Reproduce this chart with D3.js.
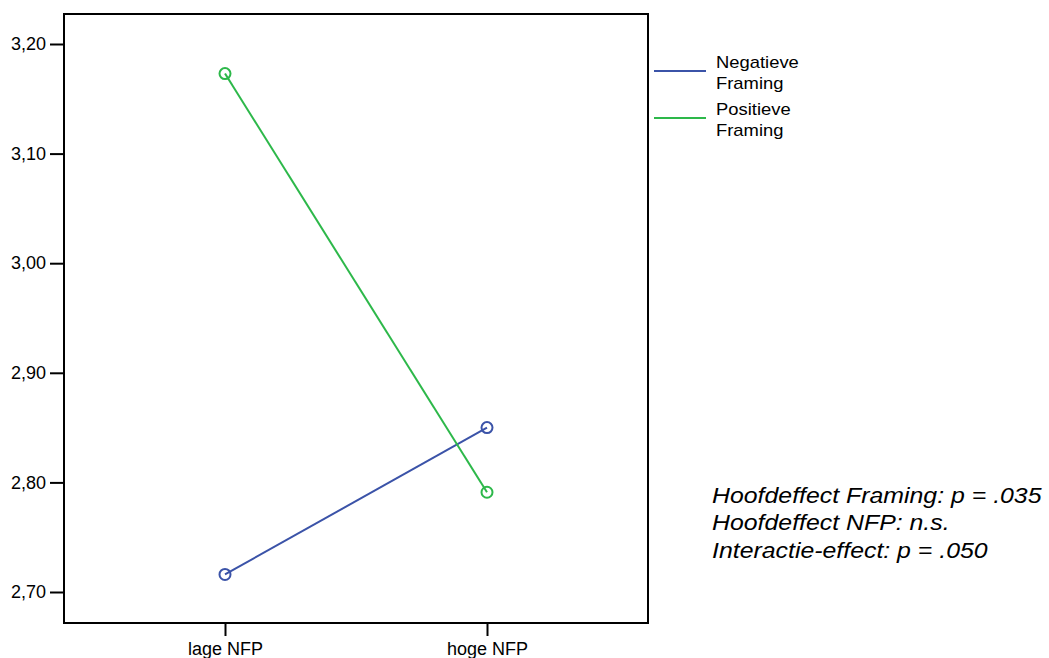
<!DOCTYPE html>
<html>
<head>
<meta charset="utf-8">
<script src="https://cdn.jsdelivr.net/npm/d3@7"></script>
<style>
  body { margin: 0; background: #fff; }
  svg { font-family: "Liberation Sans", Arial, Helvetica, sans-serif; }
</style>
</head>
<body>
<svg id="chart" width="1049" height="658"></svg>
<script>
// data
var categories = ["lage NFP", "hoge NFP"];
var seriesNames = ["Negatieve Framing", "Positieve Framing"];
var negatieve = [2.716, 2.850];
var positieve = [3.173, 2.791];
var yTicks = [2.70, 2.80, 2.90, 3.00, 3.10, 3.20];
var notes = ["Hoofdeffect Framing: p = .035", "Hoofdeffect NFP: n.s.", "Interactie-effect: p = .050"];

var colors = ["#3b53a8", "#2db84a"];
var series = [
  {name: seriesNames[0], values: negatieve, color: colors[0]},
  {name: seriesNames[1], values: positieve, color: colors[1]}
];

var svg = d3.select("#chart");
var margin = {top: 14, left: 64, right: 401, bottom: 35};
var w = 1049 - margin.left - margin.right;
var h = 658 - margin.top - margin.bottom;
var g = svg.append("g").attr("transform", "translate(" + margin.left + "," + margin.top + ")");

var x = d3.scalePoint().domain(categories).range([161, 423]);
var y = d3.scaleLinear().domain([2.70, 3.20]).range([578, 30]);

// frame
g.append("rect").attr("x", 0).attr("y", 0).attr("width", w).attr("height", h)
  .attr("fill", "none").attr("stroke", "#000").attr("stroke-width", 2);

var yAxis = g.append("g")
  .call(d3.axisLeft(y).tickValues(yTicks).tickSize(14).tickPadding(4)
    .tickFormat(function(d){ return d3.format(".2f")(d).replace(".", ","); }));
yAxis.select(".domain").remove();
yAxis.selectAll(".tick line").attr("stroke-width", 2);
yAxis.selectAll("text").attr("font-size", 18).attr("fill", "#000").attr("font-family", "Liberation Sans, Arial, sans-serif");

var xAxis = g.append("g").attr("transform", "translate(0," + h + ")")
  .call(d3.axisBottom(x).tickSize(13).tickPadding(6));
xAxis.select(".domain").remove();
xAxis.selectAll(".tick line").attr("stroke-width", 2);
xAxis.selectAll("text").attr("font-size", 18).attr("fill", "#000").attr("font-family", "Liberation Sans, Arial, sans-serif");

var line = d3.line()
  .x(function(d, i){ return x(categories[i]); })
  .y(function(d){ return y(d); });

series.forEach(function(s){
  g.append("path").datum(s.values).attr("d", line)
    .attr("fill", "none").attr("stroke", s.color).attr("stroke-width", 2);
  g.selectAll(null).data(s.values).enter().append("circle")
    .attr("cx", function(d, i){ return x(categories[i]); })
    .attr("cy", function(d){ return y(d); })
    .attr("r", 5.5)
    .attr("fill", "none").attr("stroke", s.color).attr("stroke-width", 2);
});

// legend (the source image is a bit stretched sideways)
var legend = svg.append("g").attr("transform", "translate(654,0)");
series.forEach(function(s, i){
  var ly = 71 + i * 47;
  legend.append("line").attr("x1", 0).attr("x2", 52).attr("y1", ly).attr("y2", ly)
    .attr("stroke", s.color).attr("stroke-width", 2);
  var words = s.name.split(" ");
  var t = legend.append("g").attr("transform", "translate(62,0) scale(1.15,1)");
  t.append("text").attr("y", ly - 3).attr("font-size", 16).attr("fill", "#000").text(words[0]);
  t.append("text").attr("y", ly + 18).attr("font-size", 16).attr("fill", "#000").text(words[1]);
});

// notes
svg.append("g").attr("transform", "translate(712,0) scale(1.13,1)")
  .selectAll("text").data(notes).enter().append("text")
  .attr("x", 0)
  .attr("y", function(d, i){ return 503 + i * 27.5; })
  .attr("font-size", 22)
  .attr("font-style", "italic")
  .attr("fill", "#000")
  .text(function(d){ return d; });
</script>
</body>
</html>
